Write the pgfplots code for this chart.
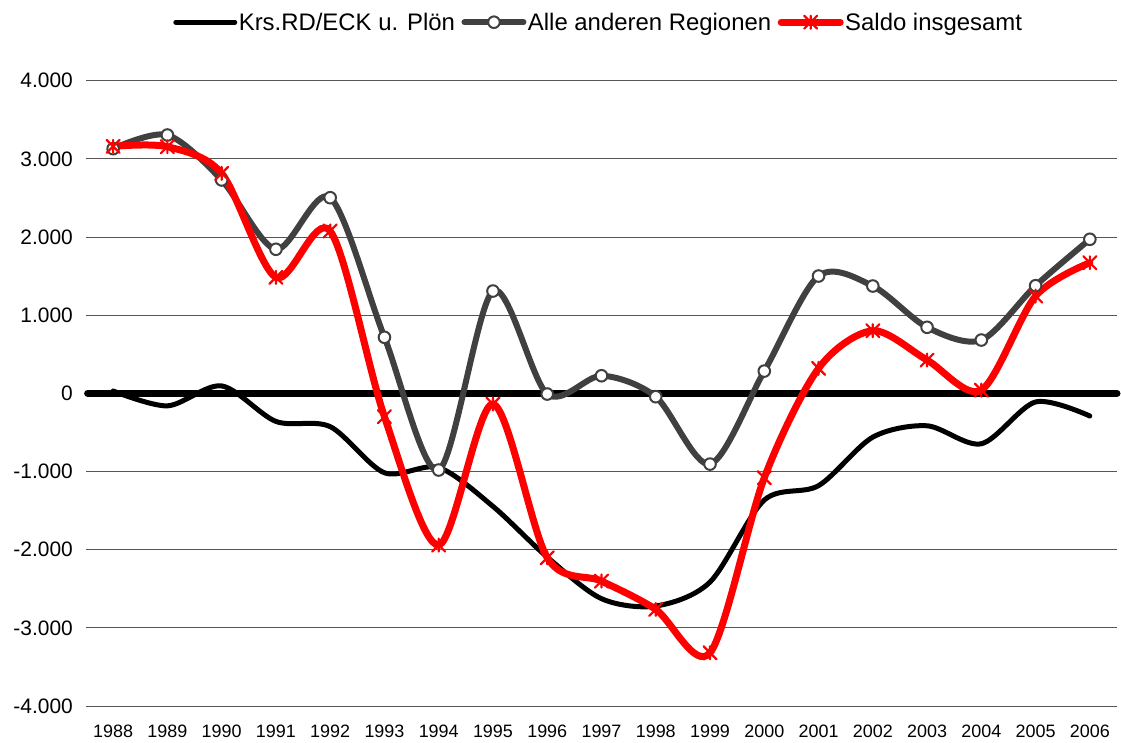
\documentclass[border=0pt]{standalone}
\usepackage{fontspec}
\setmainfont{Liberation Sans}
\usepackage{pgfplots}
\pgfplotsset{compat=1.18}
\definecolor{dgray}{HTML}{404040}
\definecolor{gridc}{HTML}{555555}
\pgfdeclareplotmark{xstar}{%
  \pgfpathmoveto{\pgfqpoint{-\pgfplotmarksize}{-\pgfplotmarksize}}%
  \pgfpathlineto{\pgfqpoint{\pgfplotmarksize}{\pgfplotmarksize}}%
  \pgfpathmoveto{\pgfqpoint{-\pgfplotmarksize}{\pgfplotmarksize}}%
  \pgfpathlineto{\pgfqpoint{\pgfplotmarksize}{-\pgfplotmarksize}}%
  \pgfpathmoveto{\pgfqpoint{0pt}{-\pgfplotmarksize}}%
  \pgfpathlineto{\pgfqpoint{0pt}{\pgfplotmarksize}}%
  \pgfusepathqstroke}
\begin{document}
\begin{tikzpicture}
\useasboundingbox (-86bp,-37bp) rectangle (1035bp,706bp);
\begin{axis}[
  scale only axis, width=1031bp, height=625.3bp,
  at={(0,0)}, anchor=south west,
  xmin=-0.5, xmax=18.5, ymin=-4000, ymax=4000,
  clip=false,
  axis line style={draw=none},
  major tick length=0pt, tick style={draw=none},
  ytick={-4000,-3000,...,4000},
  ymajorgrids, grid style={gridc, line width=0.9bp},
  xtick={0,...,18},
  xticklabels={1988,1989,1990,1991,1992,1993,1994,1995,1996,1997,1998,1999,2000,2001,2002,2003,2004,2005,2006},
  /pgf/number format/assume math mode=true,
  /pgf/number format/1000 sep={.},
  yticklabel style={font=\fontsize{21}{21}\selectfont, xshift=-9.7bp},
  xticklabel style={font=\fontsize{18}{18}\selectfont, yshift=-15.5bp},
  legend columns=3,
  legend cell align=left,
  legend style={at={(axis description cs:0.497,1)}, anchor=center, yshift=58.5bp,
    draw=none, fill=none, font=\fontsize{24}{24}\selectfont,
    nodes={inner sep=1.5bp},
    /tikz/every even column/.append style={column sep=5bp}},
  legend image code/.code={\draw[mark repeat=2,mark phase=2,#1] plot coordinates {(0bp,0bp) (29.5bp,0bp) (59bp,0bp)};},
]
\addplot[black, line width=7bp, line cap=round, forget plot] coordinates {(-0.47,0) (18.5,0)};
\addplot[black, line width=5bp, smooth, tension=0.5, line cap=round] coordinates {
(0,30) (1,-160) (2,95) (3,-359) (4,-426) (5,-1016) (6,-950) (7,-1446) (8,-2095) (9,-2627)
(10,-2721) (11,-2414) (12,-1365) (13,-1181) (14,-560) (15,-415) (16,-645) (17,-110) (18,-290)};
\addlegendentry{Krs.RD/ECK u. Plön}
\addplot[dgray, line width=6bp, smooth, tension=0.5, line cap=round, mark=*, mark size=5.8bp,
  mark options={fill=white, draw=dgray, line width=2bp, solid}] coordinates {
(0,3130) (1,3305) (2,2730) (3,1843) (4,2503) (5,717) (6,-981) (7,1309) (8,-9) (9,225)
(10,-43) (11,-905) (12,285) (13,1501) (14,1373) (15,845) (16,682) (17,1377) (18,1971)};
\addlegendentry{Alle anderen Regionen}
\addplot[red, line width=7bp, smooth, tension=0.5, line cap=round, mark=xstar, mark size=6.5bp,
  mark options={draw=red, line width=2.2bp, solid}] coordinates {
(0,3160) (1,3155) (2,2815) (3,1484) (4,2077) (5,-299) (6,-1941) (7,-137) (8,-2104) (9,-2402)
(10,-2764) (11,-3319) (12,-1080) (13,320) (14,801) (15,426) (16,42) (17,1245) (18,1671)};
\addlegendentry{Saldo insgesamt}
\end{axis}
\end{tikzpicture}
\end{document}
